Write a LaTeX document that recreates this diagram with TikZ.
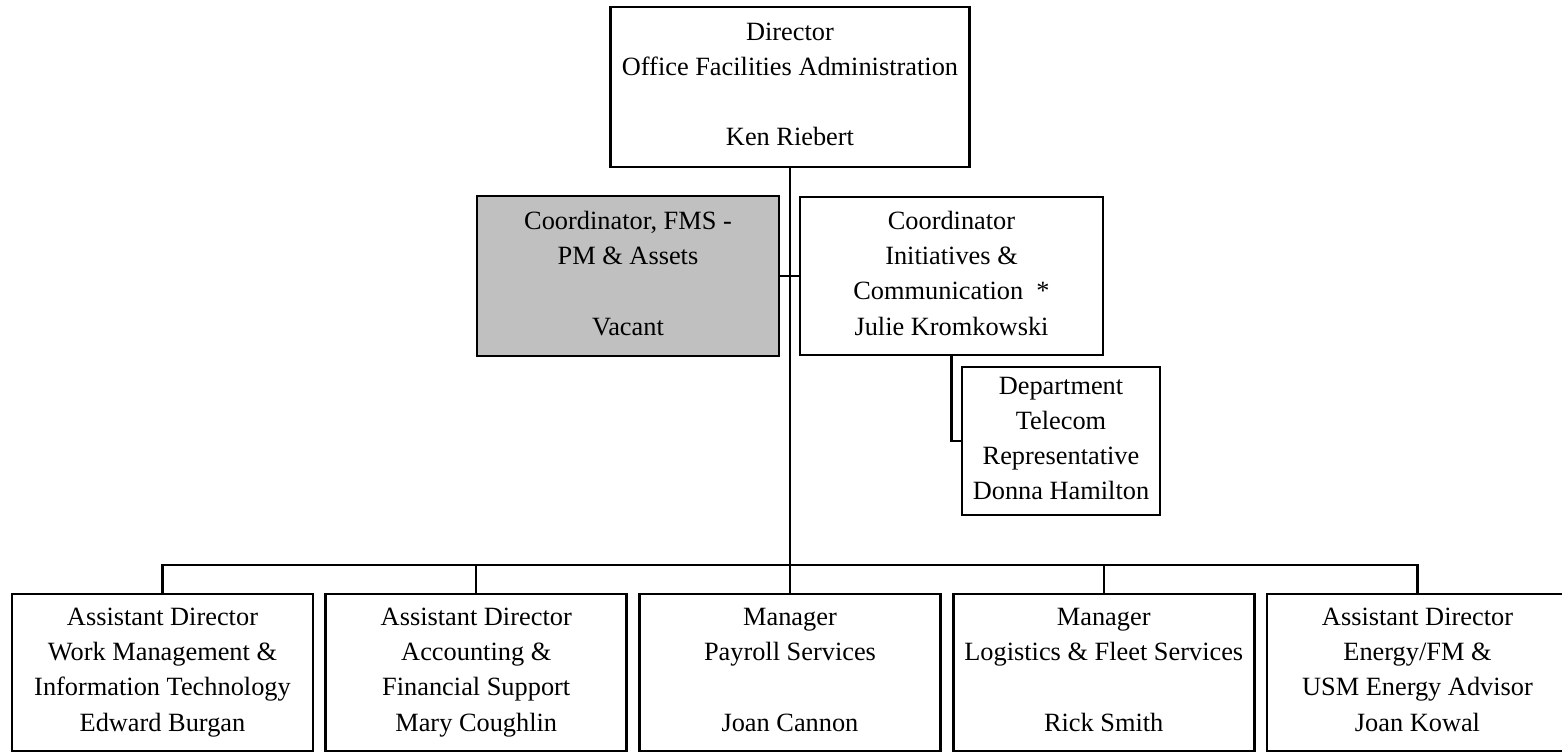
\documentclass[tikz,border=0pt]{standalone}
\usepackage{fontspec}
\setmainfont{Liberation Serif}
\usetikzlibrary{positioning}
\definecolor{vacantgray}{RGB}{192,192,192}

\begin{document}
\begin{tikzpicture}[x=0.02cm, y=-0.02cm, line width=1.2pt]
  \tikzstyle{unit}=[draw, line width=1.6pt, align=center, inner sep=2pt, font={\fontsize{15}{20}\selectfont}, execute at end node={\vphantom{g}}]
  \tikzstyle{staff}=[unit, minimum width=6.02cm, minimum height=3.14cm, node distance=0.2cm]
  \tikzstyle{vacant}=[fill=vacantgray]

  \useasboundingbox (0,0) rectangle (1562,752);

  \node[unit, minimum width=7.18cm, minimum height=3.2cm]         (dir) at (790,87)    {Director\\Office Facilities Administration\\ ~\\Ken Riebert};
  \node[unit, vacant, minimum width=6.04cm, minimum height=3.2cm] (fms) at (628,276)   {Coordinator, FMS -\\PM \& Assets\\ ~\\Vacant};
  \node[unit, minimum width=6.06cm, minimum height=3.16cm]        (ini) at (951.5,276) {Coordinator\\Initiatives \&\\Communication\ \ *\\Julie Kromkowski};
  \node[unit, minimum width=3.96cm, minimum height=2.96cm]        (tel) at (1061,441)  {Department\\Telecom\\Representative\\Donna Hamilton};

  \node[staff] (wm) at (162.5,672.5) {Assistant Director\\Work Management \&\\Information Technology\\Edward Burgan};
  \node[staff] (acc) [right=of wm]  {Assistant Director\\Accounting \&\\Financial Support\\Mary Coughlin};
  \node[staff] (pay) [right=of acc] {Manager\\Payroll Services\\ ~\\Joan Cannon};
  \node[staff] (log) [right=of pay] {Manager\\Logistics \& Fleet Services\\ ~\\Rick Smith};
  \node[staff] (eng) [right=of log] {Assistant Director\\Energy/FM \&\\USM Energy Advisor\\Joan Kowal};

  \coordinate (bar) at (0,565);
  \draw (dir.south) -- (dir.south |- bar);
  \draw (fms.east) -- (ini.west);
  \draw (ini.south) |- (tel.west);
  \draw (wm.north) -- (wm.north |- bar) -- (eng.north |- bar) -- (eng.north);
  \foreach \n in {acc, pay, log}
    \draw (\n.north) -- (\n.north |- bar);
\end{tikzpicture}
\end{document}
